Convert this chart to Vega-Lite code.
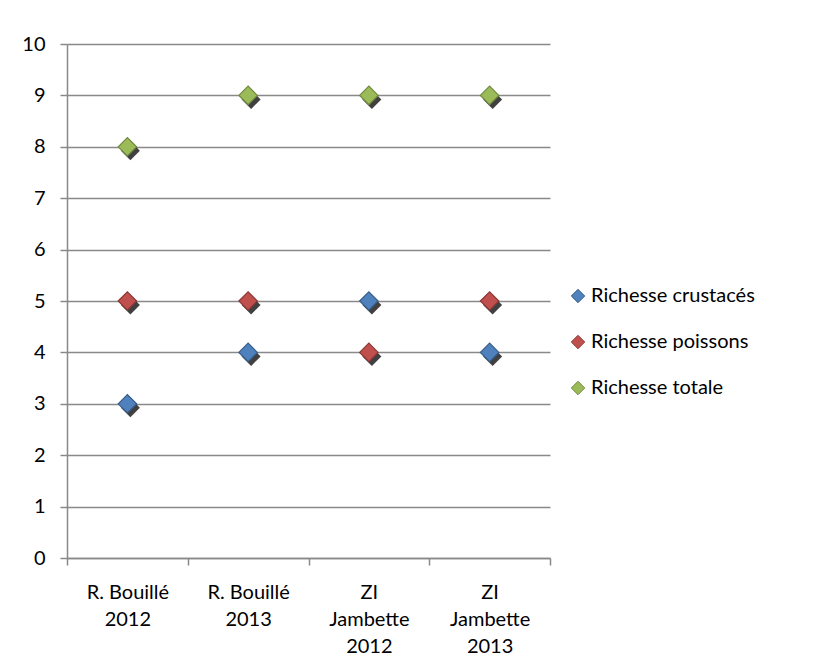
{
  "$schema": "https://vega.github.io/schema/vega-lite/v6.json",
  "width": 483,
  "height": 514,
  "autosize": {"type": "none"},
  "padding": {"left": 67, "top": 44, "right": 272, "bottom": 112},
  "background": "white",
  "config": {
    "view": {"stroke": null},
    "font": "Lato",
    "legend": {"padding": 0}
  },
  "data": {
    "values": [
      {"site": "R. Bouillé\n2012", "serie": "Richesse crustacés", "richesse": 3},
      {"site": "R. Bouillé\n2012", "serie": "Richesse poissons", "richesse": 5},
      {"site": "R. Bouillé\n2012", "serie": "Richesse totale", "richesse": 8},
      {"site": "R. Bouillé\n2013", "serie": "Richesse crustacés", "richesse": 4},
      {"site": "R. Bouillé\n2013", "serie": "Richesse poissons", "richesse": 5},
      {"site": "R. Bouillé\n2013", "serie": "Richesse totale", "richesse": 9},
      {"site": "ZI\nJambette\n2012", "serie": "Richesse crustacés", "richesse": 5},
      {"site": "ZI\nJambette\n2012", "serie": "Richesse poissons", "richesse": 4},
      {"site": "ZI\nJambette\n2012", "serie": "Richesse totale", "richesse": 9},
      {"site": "ZI\nJambette\n2013", "serie": "Richesse crustacés", "richesse": 4},
      {"site": "ZI\nJambette\n2013", "serie": "Richesse poissons", "richesse": 5},
      {"site": "ZI\nJambette\n2013", "serie": "Richesse totale", "richesse": 9}
    ]
  },
  "encoding": {
    "x": {
      "field": "site",
      "type": "nominal",
      "sort": null,
      "scale": {"type": "band", "paddingInner": 0, "paddingOuter": 0},
      "axis": {
        "title": null,
        "labelAngle": 0,
        "tickBand": "extent",
        "labelExpr": "split(datum.label, '\\n')",
        "labelLineHeight": 27,
        "labelFontSize": 20,
        "labelColor": "#000000",
        "labelPadding": 17,
        "domainColor": "#898989",
        "domainWidth": 1.5,
        "tickColor": "#898989",
        "tickWidth": 1.5,
        "tickSize": 7,
        "grid": false
      }
    },
    "y": {
      "field": "richesse",
      "type": "quantitative",
      "scale": {"domain": [0, 10]},
      "axis": {
        "title": null,
        "values": [0, 1, 2, 3, 4, 5, 6, 7, 8, 9, 10],
        "grid": true,
        "gridColor": "#898989",
        "gridWidth": 1.5,
        "domainColor": "#898989",
        "domainWidth": 1.5,
        "tickColor": "#898989",
        "tickWidth": 1.5,
        "tickSize": 7,
        "labelFontSize": 20,
        "labelColor": "#000000",
        "labelPadding": 15
      }
    }
  },
  "layer": [
    {
      "mark": {
        "type": "point",
        "shape": "diamond",
        "filled": true,
        "size": 360,
        "color": "#000000",
        "opacity": 0.75,
        "xOffset": 3,
        "yOffset": 4
      }
    },
    {
      "mark": {
        "type": "point",
        "shape": "diamond",
        "filled": true,
        "size": 340,
        "strokeWidth": 1.2,
        "opacity": 1
      },
      "encoding": {
        "fill": {
          "field": "serie",
          "type": "nominal",
          "scale": {
            "domain": ["Richesse crustacés", "Richesse poissons", "Richesse totale"],
            "range": ["#4F81BD", "#C0504D", "#9BBB59"]
          },
          "legend": {
            "title": null,
            "orient": "none",
            "legendX": 501,
            "legendY": 242,
            "symbolSize": 180,
            "symbolStrokeWidth": 1,
            "labelFontSize": 20,
            "labelColor": "#000000",
            "labelOffset": 3,
            "labelLimit": 300,
            "rowPadding": 26
          }
        },
        "stroke": {
          "field": "serie",
          "type": "nominal",
          "scale": {
            "domain": ["Richesse crustacés", "Richesse poissons", "Richesse totale"],
            "range": ["#385D8A", "#8C3836", "#71893F"]
          },
          "legend": {
            "title": null,
            "orient": "none",
            "legendX": 501,
            "legendY": 242,
            "symbolSize": 180,
            "symbolStrokeWidth": 1,
            "labelFontSize": 20,
            "labelColor": "#000000",
            "labelOffset": 3,
            "labelLimit": 300,
            "rowPadding": 26
          }
        }
      }
    }
  ]
}
